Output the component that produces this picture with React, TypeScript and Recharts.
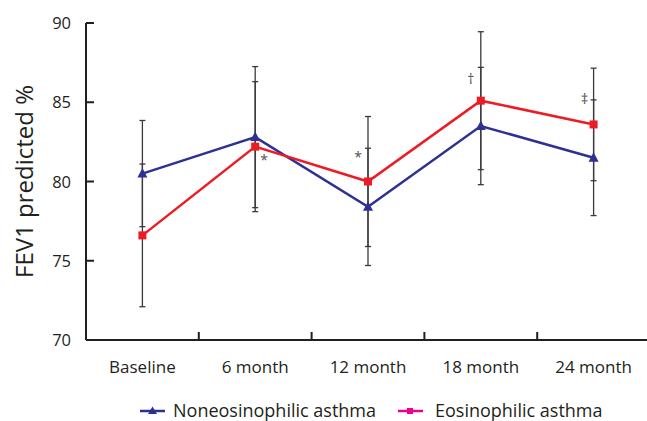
import React from 'react';
import { LineChart, Line, XAxis, YAxis, ErrorBar, Legend, LabelList } from 'recharts';

const categories = ['Baseline', '6 month', '12 month', '18 month', '24 month'];
const noneosinophilic = [80.5, 82.8, 78.4, 83.5, 81.5];
const noneosinophilicErr = [3.35, 4.45, 3.7, 3.7, 3.65];
const eosinophilic = [76.6, 82.2, 80.0, 85.1, 83.6];
const eosinophilicErr = [4.5, 4.1, 4.1, 4.35, 3.55];
const annotations = ['', '*', '*', '\u2020', '\u2021'];
const yTicks = [70, 75, 80, 85, 90];
const seriesNames = ['Noneosinophilic asthma', 'Eosinophilic asthma'];

const data = categories.map((c, i) => ({
  idx: i,
  name: c,
  non: noneosinophilic[i],
  nonErr: noneosinophilicErr[i],
  eos: eosinophilic[i],
  eosErr: eosinophilicErr[i],
  note: annotations[i],
}));

// category centres plus the boundaries between them
const xTicks = categories.flatMap((_, i) => (i < categories.length - 1 ? [i, i + 0.5] : [i]));

const FONT = '"Open Sans", sans-serif';
const TEXT = '#231f20';
const AXIS = '#231f20';
const BLUE = '#2e3192';
const RED = '#ed1c24';
const PINK = '#ec008c';
const ERR = '#3a3a3a';
const NOTE = '#505050';

const noteOffsets: Record<number, [number, number]> = {
  1: [9, 18],
  2: [-10, -20],
  3: [-10, -17],
  4: [-9, -20],
};

const XTick = (props: any) => {
  const { x, y, payload } = props;
  const v = payload.value;
  if (Number.isInteger(v)) {
    return (
      <text x={x} y={y + 33} textAnchor="middle" fontSize={17} fill={TEXT} stroke="none" fontFamily={FONT}>
        {categories[v]}
      </text>
    );
  }
  return <line x1={x} x2={x} y1={y} y2={y - 8} stroke={AXIS} strokeWidth={2} />;
};

const YTick = (props: any) => {
  const { x, y, payload } = props;
  return (
    <g>
      <line x1={x} x2={x + 8} y1={y} y2={y} stroke={AXIS} strokeWidth={2} />
      <text x={x - 15} y={y + 6} textAnchor="end" fontSize={16.5} fill={TEXT} stroke="none" fontFamily={FONT}>
        {payload.value}
      </text>
    </g>
  );
};

const YLabel = (props: any) => {
  const vb = props.viewBox || { x: 0, y: 23, width: 86, height: 317 };
  const cx = vb.x + 23;
  const cy = vb.y + vb.height / 2;
  return (
    <text
      x={cx}
      y={cy}
      transform={`rotate(-90 ${cx} ${cy})`}
      textAnchor="middle"
      dominantBaseline="central"
      fontSize={24}
      fill={TEXT}
      stroke="none"
      fontFamily={FONT}
    >
      FEV1 predicted %
    </text>
  );
};

const TriangleDot = (props: any) => {
  const { cx, cy } = props;
  if (cx == null || cy == null) return null;
  return <polygon points={`${cx},${cy - 5.5} ${cx - 5},${cy + 4} ${cx + 5},${cy + 4}`} fill={BLUE} stroke="none" />;
};

const SquareDot = (props: any) => {
  const { cx, cy } = props;
  if (cx == null || cy == null) return null;
  return <rect x={cx - 4} y={cy - 4} width={8} height={8} fill={RED} stroke="none" />;
};

const NoteLabel = (props: any) => {
  const { x, y, value, index } = props;
  if (!value) return null;
  const off = noteOffsets[index] || [0, 0];
  return (
    <text
      x={x + off[0]}
      y={y + off[1]}
      textAnchor="middle"
      fontSize={14}
      fill={NOTE}
      stroke="none"
      fontFamily={FONT}
    >
      {value}
    </text>
  );
};

const LegendContent = () => (
  <svg width={647} height={24} style={{ display: 'block' }}>
    <line x1={140} x2={165} y1={13} y2={13} stroke={BLUE} strokeWidth={2.5} />
    <polygon points="152.5,8.5 148,16 157,16" fill={BLUE} />
    <text x={173} y={19} fontSize={18} fill={TEXT} fontFamily={FONT}>
      {seriesNames[0]}
    </text>
    <line x1={398} x2={423} y1={13} y2={13} stroke={PINK} strokeWidth={2.5} />
    <rect x={407} y={10} width={6} height={6} fill={PINK} />
    <text x={435} y={19} fontSize={18} fill={TEXT} fontFamily={FONT}>
      {seriesNames[1]}
    </text>
  </svg>
);

export default function App() {
  return (
    <div
      style={{
        position: 'fixed',
        left: 0,
        top: 0,
        width: 647,
        height: 421,
        overflow: 'hidden',
        background: '#fff',
      }}
    >
      <LineChart width={650} height={421} data={data} margin={{ top: 23, right: 0, bottom: 0, left: 0 }}>
        <XAxis
          dataKey="idx"
          type="number"
          domain={[-0.5, 4.5]}
          ticks={xTicks}
          interval={0}
          tickSize={0}
          tickMargin={0}
          tickLine={false}
          axisLine={{ stroke: AXIS, strokeWidth: 2 }}
          tick={<XTick />}
          height={57}
          allowDecimals
        />
        <YAxis
          type="number"
          domain={[70, 90]}
          ticks={yTicks}
          interval={0}
          width={86}
          tickSize={0}
          tickMargin={0}
          tickLine={false}
          axisLine={{ stroke: AXIS, strokeWidth: 2 }}
          tick={<YTick />}
          label={<YLabel />}
        />
        <Legend
          verticalAlign="bottom"
          content={<LegendContent />}
          wrapperStyle={{ position: 'absolute', left: 0, top: 398, width: 647, height: 24 }}
        />
        <Line
          dataKey="non"
          name={seriesNames[0]}
          stroke={BLUE}
          strokeWidth={2.5}
          dot={<TriangleDot />}
          activeDot={false}
          isAnimationActive={false}
        >
          <ErrorBar dataKey="nonErr" width={3} stroke={ERR} strokeWidth={1.3} direction="y" />
        </Line>
        <Line
          dataKey="eos"
          name={seriesNames[1]}
          stroke={RED}
          strokeWidth={2.5}
          dot={<SquareDot />}
          activeDot={false}
          isAnimationActive={false}
        >
          <ErrorBar dataKey="eosErr" width={3} stroke={ERR} strokeWidth={1.3} direction="y" />
          <LabelList dataKey="note" content={<NoteLabel />} />
        </Line>
      </LineChart>
    </div>
  );
}
